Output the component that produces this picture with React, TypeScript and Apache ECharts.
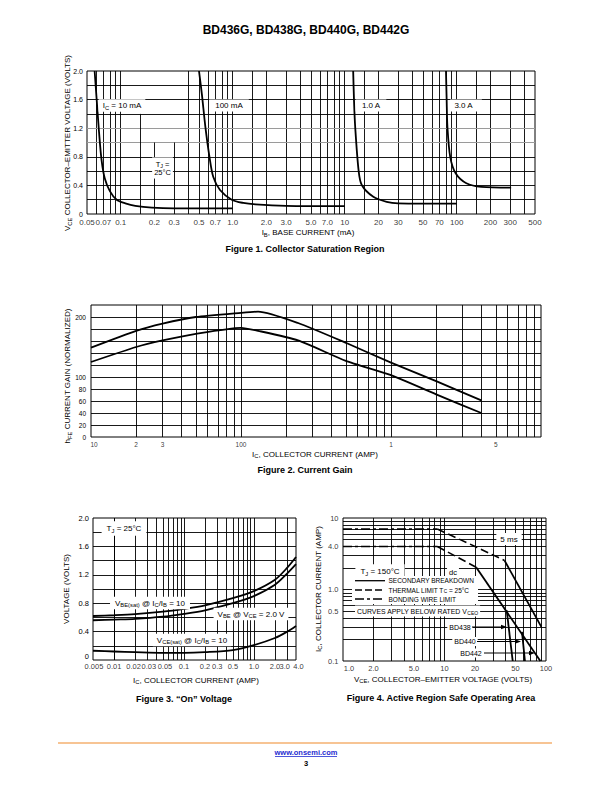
import React, { useEffect, useRef } from 'react';
import * as echarts from 'echarts';

const FONT = '"Liberation Sans", Arial, Helvetica, sans-serif';

// ---------------- Figure 1: Collector Saturation Region ----------------
const fig1XTickLabels = ['0.05', '0.07', '0.1', '0.2', '0.3', '0.5', '0.7', '1.0', '2.0', '3.0', '5.0', '7.0', '10', '20', '30', '50', '70', '100', '200', '300', '500'];
const fig1YTickLabels = ['0', '0.4', '0.8', '1.2', '1.6', '2.0'];
const fig1Ic10mA = [[0.0585, 2.0], [0.061, 1.6], [0.064, 1.15], [0.0675, 0.75], [0.072, 0.5], [0.08, 0.32], [0.092, 0.2], [0.11, 0.15], [0.135, 0.115], [0.19, 0.09], [0.3, 0.08], [1.0, 0.08]];
const fig1Ic100mA = [[0.5, 2.0], [0.53, 1.68], [0.57, 1.22], [0.62, 0.8], [0.67, 0.52], [0.77, 0.335], [0.98, 0.2], [1.24, 0.155], [1.6, 0.135], [3.0, 0.115], [10, 0.11]];
const fig1Ic1A = [[11.9, 2.0], [12.1, 1.6], [12.4, 1.22], [13.3, 0.61], [14.2, 0.405], [18, 0.24], [23.7, 0.17], [30, 0.15], [100, 0.145]];
const fig1Ic3A = [[80.2, 2.0], [81.3, 1.6], [82.6, 1.22], [87.5, 0.8], [97.8, 0.57], [122, 0.43], [166, 0.38], [306, 0.37]];

// ---------------- Figure 2: Current Gain ----------------
const fig2XTickValues = [0.01, 0.02, 0.03, 0.1, 1, 5];
const fig2XTickLabels = ['10', '2', '3', '100', '1', '5'];
const fig2YTickLabels = [0, 20, 40, 60, 80, 100, 200];
const fig2Upper = [[0.01, 149], [0.02, 177], [0.03, 189], [0.05, 200], [0.1, 207], [0.13, 209], [0.24, 190], [0.5, 157], [1, 124], [2, 93], [4, 61]];
const fig2Lower = [[0.01, 125], [0.02, 150], [0.03, 161], [0.05, 172], [0.1, 182], [0.13, 177], [0.24, 161], [0.5, 127], [1, 103], [2, 71], [4, 40]];

// ---------------- Figure 3: "On" Voltage ----------------
const fig3XTickLabels = ['0.005', '0.01', '0.02', '0.03', '0.05', '0.1', '0.2', '0.3', '0.5', '1.0', '2.0', '3.0', '4.0'];
const fig3YTickLabels = ['0', '0.4', '0.8', '1.2', '1.6', '2.0'];
const fig3VbeSat = [[0.005, 0.62], [0.01, 0.63], [0.02, 0.645], [0.05, 0.68], [0.1, 0.72], [0.2, 0.77], [0.5, 0.87], [1.0, 0.97], [2.0, 1.13], [3.0, 1.3], [4.0, 1.45]];
const fig3Vbe = [[0.005, 0.56], [0.01, 0.57], [0.02, 0.58], [0.05, 0.61], [0.1, 0.65], [0.2, 0.7], [0.5, 0.8], [1.0, 0.9], [2.0, 1.06], [3.0, 1.22], [4.0, 1.35]];
const fig3VceSat = [[0.005, 0.13], [0.01, 0.12], [0.02, 0.11], [0.05, 0.1], [0.1, 0.1], [0.2, 0.11], [0.5, 0.14], [1.0, 0.21], [2.0, 0.31], [3.0, 0.4], [4.0, 0.48]];

// ---------------- Figure 4: Active Region Safe Operating Area ----------------
const fig4XTickLabels = ['1.0', '2.0', '5.0', '10', '20', '50', '100'];
const fig4YTickLabels = ['0.1', '0.5', '1.0', '4.0', '10'];
const fig4Ms5Bonding = [[1, 7], [8.5, 7]];
const fig4Ms5Thermal = [[8.5, 7], [20, 4.0], [39, 2.55]];
const fig4Ms5Secondary = [[39, 2.55], [90, 0.3]];
const fig4DcBonding = [[1, 4], [8.5, 4]];
const fig4DcThermal = [[8.5, 4], [20.5, 2.05]];
const fig4DcSecondary = [[20.5, 2.05], [88, 0.1]];
const fig4BD438 = [[41, 0.51], [47, 0.1]];
const fig4BD440 = [[58, 0.256], [62, 0.1]];

// ---------------- helpers ----------------
function logLines(min: number, max: number, mantissas: number[]) {
  const out: number[] = [];
  for (let e = -4; e <= 4; e++) {
    for (const m of mantissas) {
      const v = +(m * Math.pow(10, e)).toPrecision(6);
      if (v > min * 1.0001 && v < max * 0.9999) out.push(v);
    }
  }
  return out;
}
function linLines(min: number, max: number, step: number) {
  const out: number[] = [];
  for (let v = min + step; v < max - step / 2; v += step) out.push(+v.toFixed(6));
  return out;
}

function gridSeries(idx: number, xs: number[], ys: any[], extra: any[] = []) {
  return {
    type: 'line', xAxisIndex: idx, yAxisIndex: idx, data: [], silent: true, z: 1,
    markLine: {
      silent: true, animation: false, symbol: ['none', 'none'], label: { show: false },
      emphasis: { disabled: true },
      lineStyle: { color: '#000', width: 0.9, type: 'solid' },
      data: [...xs.map((x) => ({ xAxis: x })), ...ys.map((y) => (typeof y === 'number' ? { yAxis: y } : y)), ...extra],
    },
  };
}

function curve(idx: number, data: number[][], o: any = {}) {
  return {
    type: 'line', xAxisIndex: idx, yAxisIndex: idx, data, showSymbol: false, symbol: 'none', z: 5,
    smooth: o.smooth ?? 0, clip: true, silent: true,
    lineStyle: { color: '#000', width: o.width ?? 1.8, type: o.type ?? 'solid' },
  };
}

function tickSeries(idx: number, items: any[], pos: string, dist: number, fs: number) {
  return {
    type: 'scatter', xAxisIndex: idx, yAxisIndex: idx, data: items, symbolSize: 1, clip: false, silent: true, z: 6,
    itemStyle: { color: 'rgba(0,0,0,0)' }, emphasis: { disabled: true },
    label: { show: true, position: pos, distance: dist, formatter: '{b}', fontSize: fs, fontFamily: FONT, color: '#000' },
  };
}

function rich(fs: number) {
  return {
    n: { fontSize: fs, fontFamily: FONT, fill: '#000' },
    s: { fontSize: +(fs * 0.72).toFixed(1), fontFamily: FONT, fill: '#000', padding: [fs * 0.55, 0, 0, 0] },
  };
}

function txt(str: string, x: number, y: number, fs: number, o: any = {}) {
  return {
    type: 'text', x, y, z: 100, silent: true, rotation: o.rotation || 0,
    style: {
      text: str, rich: rich(fs), fontSize: fs, fontFamily: FONT, fontWeight: o.bold ? 'bold' : 'normal',
      fill: o.fill || '#000', align: o.align || 'center', verticalAlign: 'middle',
      backgroundColor: o.bg, padding: o.pad,
    },
  };
}
function seg(x1: number, y1: number, x2: number, y2: number, o: any = {}) {
  return { type: 'line', z: 101, silent: true, shape: { x1, y1, x2, y2 }, style: { stroke: o.stroke || '#000', lineWidth: o.w ?? 1.4, lineDash: o.dash } };
}
function arrow(x1: number, x2: number, y: number) {
  return [
    seg(x1, y, x2 - 4, y, { w: 1 }),
    { type: 'polygon', z: 101, silent: true, shape: { points: [[x2, y], [x2 - 6, y - 2.2], [x2 - 6, y + 2.2]] }, style: { fill: '#000' } },
  ];
}

const yFmt = (labels: string[], liftZero: boolean) => (v: number) => {
  const l = labels.find((s) => Math.abs(parseFloat(s) - v) < 1e-6);
  if (l === undefined) return '';
  return v === 0 && liftZero ? '{z|' + l + '}' : l;
};

// small horizontal nudges so crowded tick labels do not collide
const fig2LabelNudge: Record<string, number> = { '10': 3 };
const fig3LabelNudge: Record<string, number> = { '0.005': 1, '0.02': -1.5, '0.03': 1.5, '0.05': 2, '3.0': -2.5, '4.0': 2.5 };
const fig4LabelNudge: Record<string, number> = { '1.0': 6 };

function buildOption() {
  const hidden = { axisLine: { show: false }, axisTick: { show: false }, splitLine: { show: false }, axisLabel: { show: false } };
  const yLab = (fs: number, fmt: any, margin = 4) => ({
    axisLine: { show: false }, axisTick: { show: false }, splitLine: { show: false },
    axisLabel: {
      show: true, fontSize: fs, fontFamily: FONT, color: '#000', margin, formatter: fmt,
      rich: { z: { fontSize: fs, fontFamily: FONT, color: '#000', padding: [0, 0, 8, 0] } },
    },
  });

  const grid = [
    { left: 87, top: 71, width: 448, height: 143 },
    { left: 91, top: 305, width: 450, height: 132 },
    { left: 93, top: 518, width: 203, height: 142 },
    { left: 343, top: 518, width: 203, height: 143 },
  ].map((g) => ({ ...g, show: true, borderColor: '#000', borderWidth: 1, backgroundColor: 'rgba(0,0,0,0)', containLabel: false }));

  const fig1Gap = [[0.15, 1.4], [0.2, 1.0], [0.3, 1.0]];
  const fig1Xs = logLines(0.05, 500, [1, 1.5, 2, 3, 4, 5, 6, 7, 8, 9]).filter((v) => !fig1Gap.some((g) => g[0] === v));
  const fig1Ys: any[] = [0.2, 0.4, 0.6, 0.8, 1.4, 1.6, 1.8, { yAxis: 1.0, lineStyle: { color: '#9a9a9a', width: 1 } }, { yAxis: 1.2, lineStyle: { color: '#9a9a9a', width: 1 } }];
  const fig1Segs = fig1Gap.map((g) => [{ coord: [g[0], 0] }, { coord: [g[0], g[1]] }]);

  const series: any[] = [
    gridSeries(0, fig1Xs, fig1Ys, fig1Segs),
    gridSeries(1, logLines(0.01, 10, [1, 2, 3, 4, 5, 6, 7, 8, 9]), linLines(0, 220, 20)),
    gridSeries(2, logLines(0.005, 4, [1, 2, 3, 4, 5, 6, 7, 8, 9]), linLines(0, 2, 0.2)),
    gridSeries(3, logLines(1, 100, [1, 2, 3, 4, 5, 6, 7, 8, 9]), logLines(0.1, 10, [1, 2, 3, 4, 5, 6, 7, 8, 9])),

    curve(0, fig1Ic10mA, { smooth: 0.3 }),
    curve(0, fig1Ic100mA, { smooth: 0.3 }),
    curve(0, fig1Ic1A, { smooth: 0.3 }),
    curve(0, fig1Ic3A, { smooth: 0.3 }),

    curve(1, fig2Upper, { smooth: 0.2 }),
    curve(1, fig2Lower, { smooth: 0.2 }),

    curve(2, fig3VbeSat, { smooth: 0.3 }),
    curve(2, fig3Vbe, { smooth: 0.3 }),
    curve(2, fig3VceSat, { smooth: 0.3 }),

    curve(3, fig4Ms5Bonding, { type: [9, 3, 3, 3], width: 1.6 }),
    curve(3, fig4Ms5Thermal, { type: [8, 4], width: 1.6 }),
    curve(3, fig4Ms5Secondary, { width: 1.8 }),
    curve(3, fig4DcBonding, { type: [9, 3, 3, 3], width: 1.6 }),
    curve(3, fig4DcThermal, { type: [8, 4], width: 1.6 }),
    curve(3, fig4DcSecondary, { width: 1.8 }),
    curve(3, fig4BD438, { width: 1.8 }),
    curve(3, fig4BD440, { width: 1.8 }),

    tickSeries(0, fig1XTickLabels.map((l) => ({ name: l, value: [parseFloat(l), 0] })), 'bottom', 4, 8),
    tickSeries(1, fig2XTickValues.map((v, i) => ({ name: fig2XTickLabels[i], value: [v, 0], label: { offset: [fig2LabelNudge[fig2XTickLabels[i]] || 0, 0] } })), 'bottom', 3, 6.5),
    tickSeries(2, fig3XTickLabels.map((l) => ({ name: l, value: [parseFloat(l), 0], label: { offset: [fig3LabelNudge[l] || 0, 0] } })), 'bottom', 2, 7.5),
    tickSeries(3, fig4XTickLabels.map((l) => ({ name: l, value: [parseFloat(l), 0.1], label: { offset: [fig4LabelNudge[l] || 0, 0] } })), 'bottom', 3, 7.5),
    tickSeries(3, fig4YTickLabels.map((l) => ({ name: l, value: [1, parseFloat(l)] })), 'left', 4, 7.5),
  ];

  const graphic: any[] = [
    // page title
    txt('BD436G, BD438G, BD440G, BD442G', 306, 30, 12, { bold: true }),

    // ---- Figure 1 ----
    txt('{n|V}{s|CE}{n| COLLECTOR\u2013EMITTER VOLTAGE (VOLTS)}', 67.5, 143, 8, { rotation: Math.PI / 2 }),
    txt('{n|I}{s|B}{n|, BASE CURRENT (mA)}', 308, 232.5, 8),
    txt('Figure 1. Collector Saturation Region', 305, 249, 9, { bold: true }),
    txt('{n|I}{s|C}{n| = 10 mA}', 122, 105.5, 8, { bg: '#fff', pad: [1, 4, 1, 4] }),
    txt('100 mA', 229, 105.5, 8, { bg: '#fff', pad: [2, 6, 2, 6] }),
    txt('1.0 A', 371, 105.5, 8, { bg: '#fff', pad: [2, 6, 2, 6] }),
    txt('3.0 A', 466, 105.5, 8, { bg: '#fff', pad: [2, 9, 2, 4] }),
    txt('{n|T}{s|J}{n| =}\n{n|25\u00b0C}', 162.5, 168, 7.5, { bg: '#fff', pad: [2, 2, 2, 2] }),

    // ---- Figure 2 ----
    txt('{n|h}{s|FE}{n| CURRENT GAIN (NORMALIZED)}', 67.5, 376, 8, { rotation: Math.PI / 2 }),
    txt('{n|I}{s|C}{n|, COLLECTOR CURRENT (AMP)}', 315, 454, 8),
    txt('Figure 2. Current Gain', 305, 470, 9, { bold: true }),

    // ---- Figure 3 ----
    txt('VOLTAGE (VOLTS)', 66, 589, 8, { rotation: Math.PI / 2 }),
    txt('{n|I}{s|C}{n|, COLLECTOR CURRENT (AMP)}', 196, 680, 8),
    txt('Figure 3. \u201cOn\u201d Voltage', 184, 699, 9, { bold: true }),
    txt('{n|T}{s|J}{n| = 25\u00b0C}', 124, 528.5, 8, { bg: '#fff', pad: [2, 5, 2, 5] }),
    txt('{n|V}{s|BE(sat)}{n| @ I}{s|C}{n|/I}{s|B}{n| = 10}', 150, 603, 8, { bg: '#fff', pad: [1, 5, 1, 5] }),
    txt('{n|V}{s|BE}{n| @ V}{s|CE}{n| = 2.0 V}', 251, 614, 8, { bg: '#fff', pad: [1, 4, 1, 4] }),
    txt('{n|V}{s|CE(sat)}{n| @ I}{s|C}{n|/I}{s|B}{n| = 10}', 192, 640, 8, { bg: '#fff', pad: [1, 4, 1, 4] }),

    // ---- Figure 4 ----
    txt('{n|I}{s|C}{n|, COLLECTOR CURRENT (AMP)}', 318, 589, 8, { rotation: Math.PI / 2 }),
    txt('{n|V}{s|CE}{n|, COLLECTOR\u2013EMITTER VOLTAGE (VOLTS)}', 443, 679, 8),
    txt('Figure 4. Active Region Safe Operating Area', 441, 698, 9, { bold: true }),
    txt('5 ms', 509, 539, 8, { bg: '#fff', pad: [2, 4, 2, 4] }),
    txt('{n|T}{s|J}{n| = 150\u00b0C}', 380, 571.5, 8, { bg: '#fff', pad: [2, 5, 2, 5] }),
    txt('dc', 453, 572, 7.5, { bg: '#fff', pad: [1, 2, 1, 2] }),
    { type: 'rect', z: 99, silent: true, shape: { x: 352, y: 576, width: 126, height: 28 }, style: { fill: '#fff' } },
    seg(355, 580.7, 385, 580.7, { w: 1.3 }),
    seg(355, 590, 385, 590, { w: 1.3, dash: [7, 3] }),
    seg(355, 599, 385, 599, { w: 1.3, dash: [9, 3, 3, 3] }),
    txt('SECONDARY BREAKDOWN', 388.5, 580.7, 6.5, { align: 'left' }),
    txt('{n|THERMAL LIMIT T}{s|C}{n| = 25\u00b0C}', 388.5, 590, 6.5, { align: 'left' }),
    txt('BONDING WIRE LIMIT', 388.5, 599, 6.5, { align: 'left' }),
    txt('{n|CURVES APPLY BELOW RATED V}{s|CEO}', 355, 611, 6.9, { align: 'left', bg: '#fff', pad: [1, 2, 1, 2] }),
    txt('BD438', 460, 627, 7, { bg: '#fff', pad: [1, 2, 1, 2] }),
    txt('BD440', 465, 641.5, 7, { bg: '#fff', pad: [1, 2, 1, 2] }),
    txt('BD442', 471, 653, 7, { bg: '#fff', pad: [1, 2, 1, 2] }),
    ...arrow(472, 507, 627),
    ...arrow(477, 521, 641.5),
    ...arrow(484, 535, 653),

    // ---- footer ----
    seg(58, 743, 552, 743, { stroke: '#ef8a2a', w: 1.2 }),
    txt('www.onsemi.com', 306, 752, 7.5, { bold: true, fill: '#1f2bd0' }),
    seg(275, 756.5, 337, 756.5, { stroke: '#1f2bd0', w: 0.8 }),
    txt('3', 306, 763, 7.5, { bold: true }),
  ];

  return {
    animation: false,
    backgroundColor: '#fff',
    textStyle: { fontFamily: FONT },
    grid,
    xAxis: [
      { gridIndex: 0, type: 'log', logBase: 10, min: 0.05, max: 500, ...hidden },
      { gridIndex: 1, type: 'log', logBase: 10, min: 0.01, max: 10, ...hidden },
      { gridIndex: 2, type: 'log', logBase: 10, min: 0.005, max: 4, ...hidden },
      { gridIndex: 3, type: 'log', logBase: 10, min: 1, max: 100, ...hidden },
    ],
    yAxis: [
      { gridIndex: 0, type: 'value', min: 0, max: 2, interval: 0.2, ...yLab(7, yFmt(fig1YTickLabels, false), 4) },
      { gridIndex: 1, type: 'value', min: 0, max: 220, interval: 20, ...yLab(6.5, (v: number) => (fig2YTickLabels.includes(Math.round(v)) ? String(Math.round(v)) : ''), 5) },
      { gridIndex: 2, type: 'value', min: 0, max: 2, interval: 0.2, ...yLab(7.5, yFmt(fig3YTickLabels, true), 4) },
      { gridIndex: 3, type: 'log', logBase: 10, min: 0.1, max: 10, ...hidden },
    ],
    series,
    graphic,
  };
}

export default function App() {
  const ref = useRef<HTMLDivElement>(null);
  useEffect(() => {
    if (!ref.current) return;
    const chart = echarts.init(ref.current, null, { renderer: 'svg' });
    chart.setOption(buildOption() as any);
    return () => chart.dispose();
  }, []);
  return <div ref={ref} style={{ position: 'absolute', left: 0, top: 0, width: 612, height: 792, background: '#fff' }} />;
}
